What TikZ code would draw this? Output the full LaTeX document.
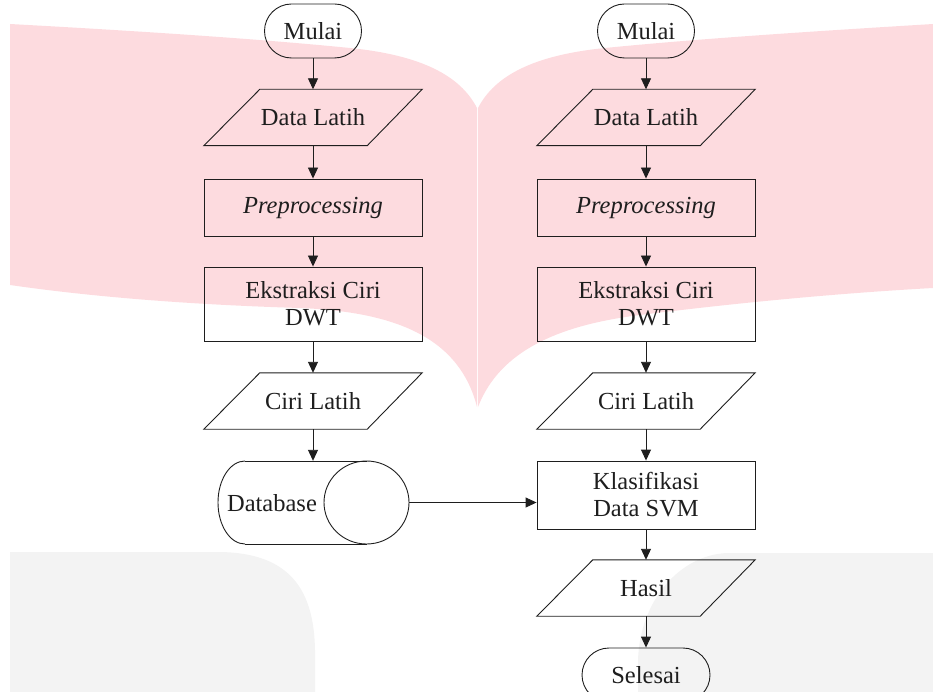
\documentclass[tikz,border=0pt]{standalone}
\usepackage{fontspec}
\setmainfont{Liberation Serif}
\usetikzlibrary{arrows.meta}
\definecolor{wmpink}{RGB}{253,219,223}
\definecolor{wmgrey}{RGB}{243,243,243}
\definecolor{ink}{RGB}{30,30,30}
\tikzset{
  ln/.style={draw=ink, line width=0.9pt},
  arr/.style={ln, -{Triangle[length=11pt,width=10pt]}},
  txt/.style={font=\fontsize{24.5}{27}\selectfont, text=ink, align=center, inner sep=0pt},
  boxn/.style={txt, draw=ink, line width=0.9pt, minimum width=218pt},
  term/.style={txt, draw=ink, line width=0.9pt, rounded corners=27pt, minimum height=54pt},
  paran/.style={txt, minimum width=218pt, minimum height=56pt},
  dbbox/.style={inner sep=0pt, minimum width=191pt, minimum height=83pt}
}
\newcommand\drawpara[1]{\draw[ln] ([xshift=56pt]#1.north west) -- (#1.north east) -- ([xshift=-55pt]#1.south east) -- (#1.south west) -- cycle;}
\begin{document}
\begin{tikzpicture}[x=1pt,y=-1pt]
\clip (0,0) rectangle (933,692);
% watermark
\fill[wmpink] (10,24) .. controls (120,30) and (250,38) .. (350,48) .. controls (420,55) and (460,75) .. (477,108) -- (477,407) .. controls (460,340) and (400,312) .. (300,308) .. controls (200,305) and (100,298) .. (10,285) -- cycle;
\fill[wmpink] (478,108) .. controls (495,75) and (535,55) .. (605,48) .. controls (705,38) and (835,30) .. (933,24) -- (933,288) .. controls (860,292) and (760,300) .. (640,315) .. controls (560,325) and (500,350) .. (478,407) -- cycle;
\fill[wmgrey] (10,552) -- (220,552) .. controls (290,553) and (314,590) .. (315,650) -- (315,692) -- (10,692) -- cycle;
\fill[wmgrey] (933,553) -- (727,553) .. controls (680,555) and (640,600) .. (638,660) -- (638,692) -- (933,692) -- cycle;

% left column
\node[term, minimum width=97pt] (m1) at (313,31) {Mulai};
\node[paran] (d1) at (313,117.5) {Data Latih};
\drawpara{d1}
\node[boxn, minimum height=57pt] (p1) at (313,207.5) {\itshape Preprocessing};
\node[boxn, minimum height=74pt] (e1) at (313,304) {Ekstraksi Ciri\\DWT};
\node[paran] (c1) at (313,401) {Ciri Latih};
\drawpara{c1}
\node[dbbox] (db) at (313.5,502.5) {};
\draw[ln] (245,461) -- (366.5,461);
\draw[ln] (245,544) -- (366.5,544);
\draw[ln] (245,461) arc[start angle=270, end angle=90, x radius=27, y radius=41.5];
\draw[ln] (366.5,502.5) ellipse[x radius=42.5, y radius=41.5];
\node[txt] (dbt) at (272,503) {Database};

% right column
\node[term, minimum width=97pt] (m2) at (646,31) {Mulai};
\node[paran] (d2) at (646,117.5) {Data Latih};
\drawpara{d2}
\node[boxn, minimum height=57pt] (p2) at (646,207.5) {\itshape Preprocessing};
\node[boxn, minimum height=74pt] (e2) at (646,304) {Ekstraksi Ciri\\DWT};
\node[paran] (c2) at (646,401) {Ciri Latih};
\drawpara{c2}
\node[boxn, minimum height=68pt] (k2) at (646,495) {Klasifikasi\\Data SVM};
\node[paran] (h2) at (646,588) {Hasil};
\drawpara{h2}
\node[term, minimum width=128pt] (s2) at (646,675) {Selesai};

% connectors
\draw[arr] (m1.south) -- (d1.north);
\draw[arr] (d1.south) -- (p1.north);
\draw[arr] (p1.south) -- (e1.north);
\draw[arr] (e1.south) -- (c1.north);
\draw[arr] (c1.south) -- (c1.south |- db.north);
\draw[arr] (db.east) -- (db.east -| k2.west);
\draw[arr] (m2.south) -- (d2.north);
\draw[arr] (d2.south) -- (p2.north);
\draw[arr] (p2.south) -- (e2.north);
\draw[arr] (e2.south) -- (c2.north);
\draw[arr] (c2.south) -- (k2.north);
\draw[arr] (k2.south) -- (h2.north);
\draw[arr] (h2.south) -- (s2.north);
\end{tikzpicture}
\end{document}
